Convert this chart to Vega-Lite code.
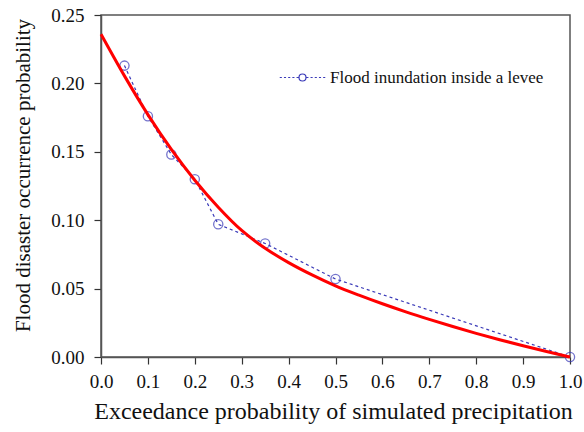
{
  "$schema": "https://vega.github.io/schema/vega-lite/v6.json",
  "width": 469,
  "height": 342,
  "autosize": {"type": "none"},
  "padding": {"left": 101, "top": 15, "right": 14, "bottom": 75},
  "background": "white",
  "config": {
    "font": "Liberation Serif, Times New Roman, serif",
    "view": {"stroke": "#555555", "strokeWidth": 1.5},
    "axis": {
      "domainColor": "#555555",
      "domainWidth": 1.5,
      "tickColor": "#333333",
      "tickWidth": 1.2,
      "tickSize": 7,
      "grid": false,
      "labelFont": "Liberation Serif, Times New Roman, serif",
      "labelFontSize": 19,
      "labelColor": "#111111",
      "titleFont": "Liberation Serif, Times New Roman, serif",
      "titleFontWeight": "normal",
      "titleColor": "#111111"
    },
    "legend": {"labelFont": "Liberation Serif, Times New Roman, serif"}
  },
  "datasets": {
    "observed": [
      {"p": 0.05, "prob": 0.213, "series": "Flood inundation inside a levee"},
      {"p": 0.10, "prob": 0.176, "series": "Flood inundation inside a levee"},
      {"p": 0.15, "prob": 0.148, "series": "Flood inundation inside a levee"},
      {"p": 0.20, "prob": 0.130, "series": "Flood inundation inside a levee"},
      {"p": 0.25, "prob": 0.097, "series": "Flood inundation inside a levee"},
      {"p": 0.35, "prob": 0.083, "series": "Flood inundation inside a levee"},
      {"p": 0.50, "prob": 0.057, "series": "Flood inundation inside a levee"},
      {"p": 1.00, "prob": 0.000, "series": "Flood inundation inside a levee"}
    ],
    "fitted": [
      {"p": 0.00, "prob": 0.236},
      {"p": 0.05, "prob": 0.2055},
      {"p": 0.10, "prob": 0.1772},
      {"p": 0.15, "prob": 0.1517},
      {"p": 0.20, "prob": 0.1292},
      {"p": 0.25, "prob": 0.1095},
      {"p": 0.30, "prob": 0.0925},
      {"p": 0.35, "prob": 0.0795},
      {"p": 0.40, "prob": 0.0690},
      {"p": 0.45, "prob": 0.0600},
      {"p": 0.50, "prob": 0.0520},
      {"p": 0.55, "prob": 0.0452},
      {"p": 0.60, "prob": 0.0389},
      {"p": 0.65, "prob": 0.0330},
      {"p": 0.70, "prob": 0.0275},
      {"p": 0.75, "prob": 0.0223},
      {"p": 0.80, "prob": 0.0173},
      {"p": 0.85, "prob": 0.0126},
      {"p": 0.90, "prob": 0.0082},
      {"p": 0.95, "prob": 0.0040},
      {"p": 1.00, "prob": 0.0000}
    ]
  },
  "encoding": {
    "x": {
      "field": "p",
      "type": "quantitative",
      "scale": {"domain": [0, 1], "nice": false, "zero": false},
      "axis": {
        "title": "Exceedance probability of simulated precipitation",
        "titleFontSize": 24,
        "titleX": 232,
        "values": [0, 0.1, 0.2, 0.3, 0.4, 0.5, 0.6, 0.7, 0.8, 0.9, 1.0],
        "format": ".1f",
        "labelPadding": 8,
        "titlePadding": 8,
        "labelFlush": false
      }
    },
    "y": {
      "field": "prob",
      "type": "quantitative",
      "scale": {"domain": [0, 0.25], "nice": false},
      "axis": {
        "title": "Flood disaster occurrence probability",
        "titleFontSize": 21,
        "titleY": 160,
        "values": [0, 0.05, 0.1, 0.15, 0.2, 0.25],
        "format": ".2f",
        "labelPadding": 10,
        "titlePadding": 17,
        "labelFlush": false
      }
    }
  },
  "layer": [
    {
      "data": {"name": "observed"},
      "mark": {"type": "line", "strokeDash": [3, 3], "strokeWidth": 1.2},
      "encoding": {
        "color": {
          "field": "series",
          "type": "nominal",
          "scale": {"range": ["#3a3ab8"]},
          "legend": {
            "title": null,
            "orient": "none",
            "legendX": 193,
            "legendY": 54,
            "padding": 0,
            "symbolType": "M-6.5,0H-5.9M-5.3,0H-4.7M-4.1,0H-3.5M-2.9,0H-2.3M-1.7,0H-1.1M1.1,0H1.7M2.3,0H2.9M3.5,0H4.1M4.7,0H5.3M5.9,0H6.5M-1,0A1,1 0 1,0 1,0A1,1 0 1,0 -1,0",
            "symbolSize": 49,
            "symbolStrokeWidth": 1.2,
            "symbolFillColor": "transparent",
            "symbolStrokeColor": "#3a3ab8",
            "labelOffset": 19,
            "labelFont": "Liberation Serif, Times New Roman, serif",
            "labelFontSize": 17,
            "labelColor": "#111111",
            "labelLimit": 400
          }
        }
      }
    },
    {
      "data": {"name": "observed"},
      "mark": {"type": "point", "filled": false, "size": 85, "strokeWidth": 1.3, "color": "#3a3ab8"},
      "encoding": {}
    },
    {
      "data": {"name": "fitted"},
      "mark": {"type": "line", "color": "#ff0000", "strokeWidth": 3, "interpolate": "monotone"},
      "encoding": {}
    }
  ]
}
